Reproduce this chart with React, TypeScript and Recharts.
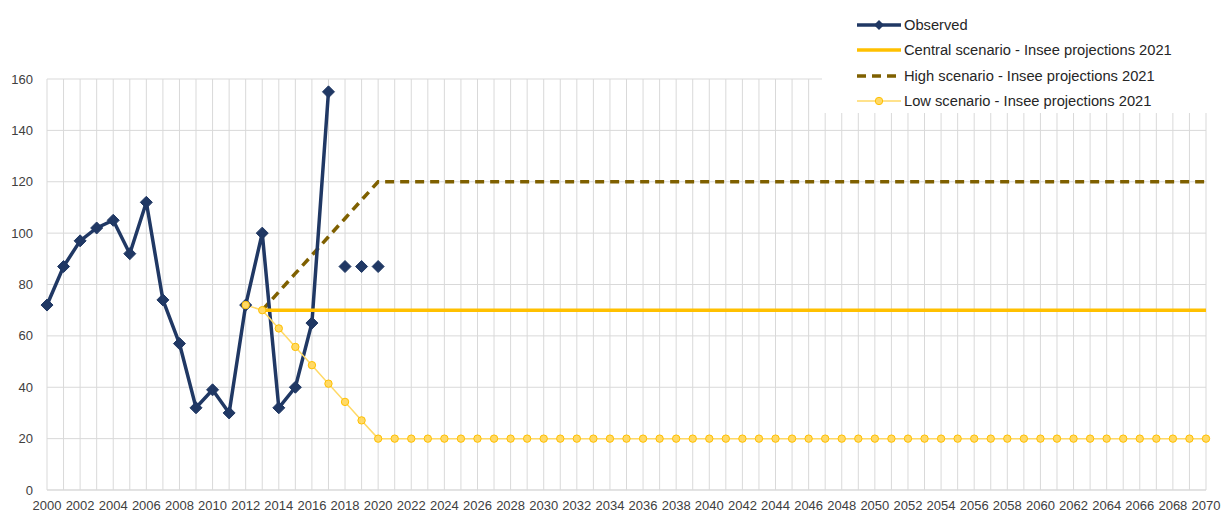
import { LineChart, Line, XAxis, YAxis, CartesianGrid } from "recharts";

const years = [
  2000, 2001, 2002, 2003, 2004, 2005, 2006, 2007, 2008, 2009,
  2010, 2011, 2012, 2013, 2014, 2015, 2016, 2017, 2018, 2019,
  2020, 2021, 2022, 2023, 2024, 2025, 2026, 2027, 2028, 2029,
  2030, 2031, 2032, 2033, 2034, 2035, 2036, 2037, 2038, 2039,
  2040, 2041, 2042, 2043, 2044, 2045, 2046, 2047, 2048, 2049,
  2050, 2051, 2052, 2053, 2054, 2055, 2056, 2057, 2058, 2059,
  2060, 2061, 2062, 2063, 2064, 2065, 2066, 2067, 2068, 2069,
  2070,
];

// observed, from 2000
const observed = [72, 87, 97, 102, 105, 92, 112, 74, 57, 32, 39, 30, 72, 100, 32, 40, 65, 155];
// observed points without line, from 2018
const observedLate = [87, 87, 87];

// central scenario, from 2013
const central = [
  70, 70, 70, 70, 70, 70, 70, 70,
  70, 70, 70, 70, 70, 70, 70, 70, 70, 70,
  70, 70, 70, 70, 70, 70, 70, 70, 70, 70,
  70, 70, 70, 70, 70, 70, 70, 70, 70, 70,
  70, 70, 70, 70, 70, 70, 70, 70, 70, 70,
  70, 70, 70, 70, 70, 70, 70, 70, 70, 70,
];
// high scenario, from 2013
const high = [
  70, 77.1, 84.3, 91.4, 98.6, 105.7, 112.9, 120,
  120, 120, 120, 120, 120, 120, 120, 120, 120, 120,
  120, 120, 120, 120, 120, 120, 120, 120, 120, 120,
  120, 120, 120, 120, 120, 120, 120, 120, 120, 120,
  120, 120, 120, 120, 120, 120, 120, 120, 120, 120,
  120, 120, 120, 120, 120, 120, 120, 120, 120, 120,
];
// low scenario, from 2012
const low = [
  72, 70, 62.9, 55.7, 48.6, 41.4, 34.3, 27.1, 20,
  20, 20, 20, 20, 20, 20, 20, 20, 20, 20,
  20, 20, 20, 20, 20, 20, 20, 20, 20, 20,
  20, 20, 20, 20, 20, 20, 20, 20, 20, 20,
  20, 20, 20, 20, 20, 20, 20, 20, 20, 20,
  20, 20, 20, 20, 20, 20, 20, 20, 20, 20,
];

const yTicks = [0, 20, 40, 60, 80, 100, 120, 140, 160];

const NAVY = "#203864";
const GOLD = "#FFC000";
const OLIVE = "#7F6000";
const PALE = "#FFD966";
const GRID = "#D9D9D9";
const TEXT = "#404040";
const FONT = "'Liberation Sans', Arial, sans-serif";

const pick = (arr: number[], start: number, year: number) => {
  const v = arr[year - start];
  return v === undefined ? null : v;
};

const data = years.map((year) => ({
  year,
  observed: pick(observed, 2000, year),
  observedLate: pick(observedLate, 2018, year),
  central: pick(central, 2013, year),
  high: pick(high, 2013, year),
  low: pick(low, 2012, year),
}));

function Diamond(props: any) {
  const { cx, cy, index } = props;
  if (cx == null || cy == null || props.value == null) return <g key={index} />;
  const s = 6;
  return (
    <polygon
      key={index}
      points={`${cx},${cy - s} ${cx + s},${cy} ${cx},${cy + s} ${cx - s},${cy}`}
      fill={NAVY}
      stroke={NAVY}
      strokeWidth={1}
    />
  );
}

const legendItems = [
  { label: "Observed", kind: "observed" },
  { label: "Central scenario - Insee projections 2021", kind: "central" },
  { label: "High scenario - Insee projections 2021", kind: "high" },
  { label: "Low scenario - Insee projections 2021", kind: "low" },
];

function LegendIcon({ kind }: { kind: string }) {
  return (
    <svg width={46} height={12} style={{ display: "block" }}>
      {kind === "observed" && (
        <>
          <line x1={1} y1={6} x2={45} y2={6} stroke={NAVY} strokeWidth={3.5} />
          <polygon points="23,1 28,6 23,11 18,6" fill={NAVY} />
        </>
      )}
      {kind === "central" && <line x1={1} y1={6} x2={45} y2={6} stroke={GOLD} strokeWidth={3.5} />}
      {kind === "high" && (
        <line x1={1} y1={6} x2={45} y2={6} stroke={OLIVE} strokeWidth={3.5} strokeDasharray="9 6" />
      )}
      {kind === "low" && (
        <>
          <line x1={1} y1={6} x2={45} y2={6} stroke={PALE} strokeWidth={1.5} />
          <circle cx={23} cy={6} r={3.7} fill={PALE} stroke={GOLD} strokeWidth={1} />
        </>
      )}
    </svg>
  );
}

export default function App() {
  return (
    <div style={{ position: "absolute", left: 0, top: 0, width: 1223, height: 515, background: "#fff" }}>
      <LineChart width={1223} height={515} data={data} margin={{ top: 79, right: 17, bottom: 0, left: 0 }}>
        <CartesianGrid stroke={GRID} strokeWidth={1} />
        <XAxis
          dataKey="year"
          interval={0}
          height={25}
          tickSize={0}
          tickMargin={11}
          axisLine={{ stroke: GRID }}
          tickLine={false}
          tickFormatter={(v: number) => (v % 2 === 0 ? String(v) : "")}
          tick={{ fill: TEXT, fontSize: 13, fontFamily: FONT }}
        />
        <YAxis
          domain={[0, 160]}
          ticks={yTicks}
          width={47}
          tickSize={0}
          tickMargin={14}
          axisLine={false}
          tickLine={false}
          tick={{ fill: TEXT, fontSize: 13, fontFamily: FONT }}
        />
        <Line
          dataKey="high"
          stroke={OLIVE}
          strokeWidth={3.5}
          strokeDasharray="9 6"
          dot={false}
          isAnimationActive={false}
        />
        <Line
          dataKey="observed"
          stroke={NAVY}
          strokeWidth={3.5}
          dot={Diamond}
          activeDot={false}
          isAnimationActive={false}
        />
        <Line
          dataKey="observedLate"
          stroke="none"
          dot={Diamond}
          activeDot={false}
          isAnimationActive={false}
        />
        <Line
          dataKey="central"
          stroke={GOLD}
          strokeWidth={3.5}
          dot={false}
          isAnimationActive={false}
        />
        <Line
          dataKey="low"
          stroke={PALE}
          strokeWidth={1.5}
          dot={{ r: 3.7, fill: PALE, stroke: GOLD, strokeWidth: 1 }}
          activeDot={false}
          isAnimationActive={false}
        />
      </LineChart>
      <div
        style={{
          position: "absolute",
          left: 822,
          top: 0,
          width: 401,
          height: 113,
          background: "#fff",
          fontFamily: FONT,
          fontSize: 14.7,
          color: "#262626",
        }}
      >
        {legendItems.map((it, i) => (
          <div
            key={it.kind}
            style={{
              position: "absolute",
              left: 34,
              top: 25 + i * 25.3 - 9,
              height: 18,
              display: "flex",
              alignItems: "center",
              whiteSpace: "nowrap",
            }}
          >
            <LegendIcon kind={it.kind} />
            <span style={{ marginLeft: 2 }}>{it.label}</span>
          </div>
        ))}
      </div>
    </div>
  );
}
